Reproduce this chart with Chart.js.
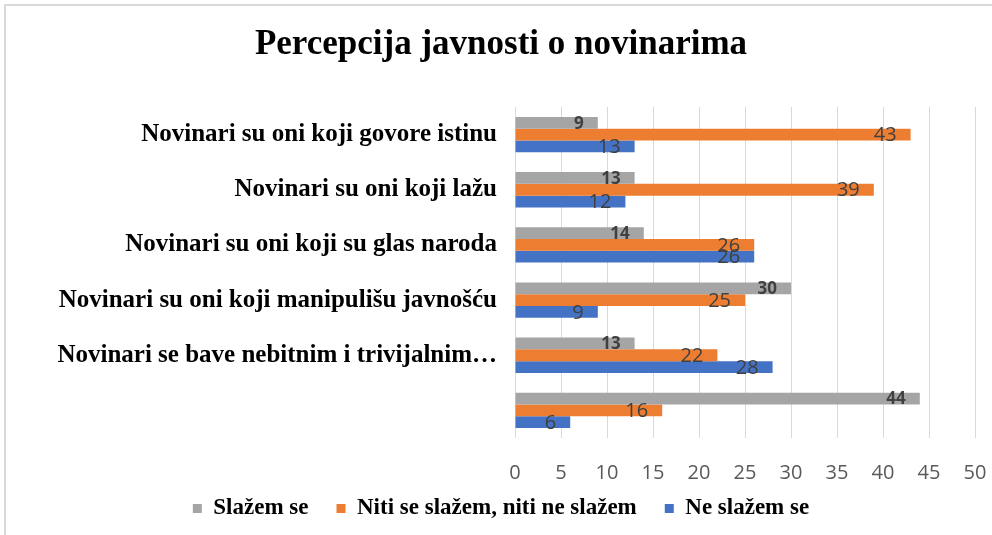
<!DOCTYPE html>
<html>
<head>
<meta charset="utf-8">
<script src="https://cdn.jsdelivr.net/npm/chart.js@4/dist/chart.umd.min.js"></script>
<style>
  html, body { margin: 0; padding: 0; background: #fff; }
  #wrap { position: relative; width: 992px; height: 535px; }
  #frame { position: absolute; left: 4px; top: 4px; right: -10px; bottom: -10px; border-top: 2px solid #d9d9d9; border-left: 2px solid #d9d9d9; }
  canvas { position: absolute; left: 0; top: 0; }
</style>
</head>
<body>
<div id="wrap">
  <div id="frame"></div>
  <canvas id="chart" width="992" height="535"></canvas>
</div>
<script>
// categories, top to bottom
const categories = [
    'Novinari su oni koji govore istinu',
    'Novinari su oni koji lažu',
    'Novinari su oni koji su glas naroda',
    'Novinari su oni koji manipulišu javnošću',
    'Novinari se bave nebitnim i trivijalnim…',
    ''
];

const seriesNames = ['Slažem se', 'Niti se slažem, niti ne slažem', 'Ne slažem se'];

const agree = [9, 13, 14, 30, 13, 44];
const neutral = [43, 39, 26, 25, 22, 16];
const disagree = [13, 12, 26, 9, 28, 6];

const COLORS = ['#A5A5A5', '#ED7D31', '#4472C4'];

// value labels drawn at the inside end of each bar
const barLabels = {
    id: 'barLabels',
    afterLayout(chart) {
        // let the x tick labels hang below the axis box without being clipped
        chart.scales.x.bottom += 20;
    },
    afterDatasetsDraw(chart) {
        const ctx = chart.ctx;
        ctx.save();
        ctx.fillStyle = '#404040';
        ctx.textAlign = 'right';
        ctx.textBaseline = 'middle';
        chart.data.datasets.forEach((ds, i) => {
            const meta = chart.getDatasetMeta(i);
            ctx.font = i === 0 ? 'bold 17px "Open Sans"' : '20px "Open Sans"';
            meta.data.forEach((bar, j) => {
                ctx.fillText(String(ds.data[j]), bar.x - 14, bar.y + 1);
            });
        });
        ctx.restore();
    }
};

const ctx = document.getElementById('chart').getContext('2d');
new Chart(ctx, {
    type: 'bar',
    data: {
        labels: categories,
        datasets: [agree, neutral, disagree].map((d, i) => ({
            label: seriesNames[i],
            data: d,
            backgroundColor: COLORS[i],
            borderWidth: 0,
            categoryPercentage: 0.64,
            barPercentage: 1
        }))
    },
    options: {
        indexAxis: 'y',
        responsive: false,
        animation: false,
        layout: { padding: { left: 27, right: 17, top: 0, bottom: 5 } },
        scales: {
            x: {
                min: 0,
                max: 50,
                ticks: { stepSize: 5, color: '#595959', padding: 23, font: { family: 'Open Sans', size: 20 } },
                grid: { color: '#d9d9d9', drawTicks: false },
                border: { display: false },
                afterFit(scale) { scale.height = 31; scale.paddingRight = 0; scale.paddingLeft = 0; }
            },
            y: {
                ticks: { color: '#000', padding: 18, font: { family: 'Liberation Serif', size: 25, weight: 'bold' } },
                grid: { display: false, drawTicks: false },
                border: { display: false },
                afterFit(scale) { scale.width = 488; }
            }
        },
        plugins: {
            title: {
                display: true,
                text: 'Percepcija javnosti o novinarima',
                color: '#000',
                font: { family: 'Liberation Serif', size: 35, weight: 'bold' },
                padding: { top: 24, bottom: 41 }
            },
            legend: {
                position: 'bottom',
                maxHeight: 66,
                labels: {
                    color: '#000',
                    boxWidth: 9,
                    boxHeight: 9,
                    padding: 28,
                    font: { family: 'Liberation Serif', size: 23, weight: 'bold' }
                }
            },
            tooltip: { enabled: false }
        }
    },
    plugins: [barLabels]
});
</script>
</body>
</html>
